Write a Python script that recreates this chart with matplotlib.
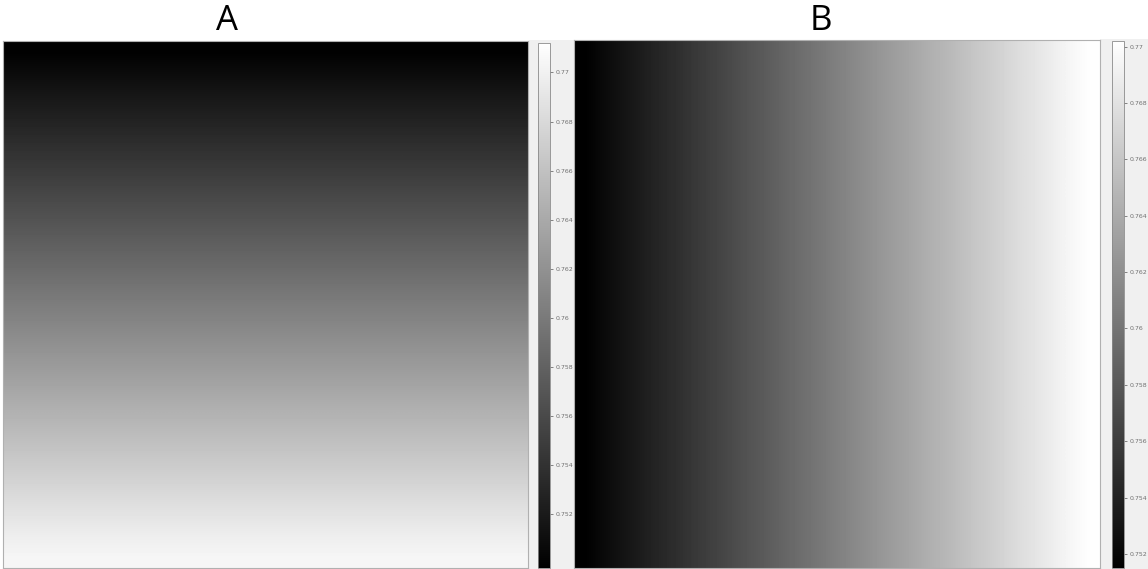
import numpy as np
import matplotlib
matplotlib.use("Agg")
import matplotlib.pyplot as plt
from matplotlib.patches import Rectangle

# Panel A: values per row (top -> bottom), field varies vertically
a_rows = [0.7499, 0.7508, 0.7517, 0.7526, 0.7535, 0.7544, 0.7553, 0.7562,
          0.7571, 0.7580, 0.7589, 0.7598, 0.7607, 0.7616, 0.7625, 0.7634,
          0.7643, 0.7652, 0.7661, 0.7670, 0.7679, 0.7688, 0.7697, 0.7704]
a_vmin, a_vmax = 0.7498, 0.7712

# Panel B: values per column (left -> right), field varies horizontally
b_cols = [0.7515, 0.7524, 0.7532, 0.7541, 0.7549, 0.7558, 0.7566, 0.7575,
          0.7583, 0.7592, 0.7600, 0.7609, 0.7617, 0.7626, 0.7634, 0.7643,
          0.7651, 0.7660, 0.7668, 0.7677, 0.7685, 0.7694, 0.7701]
b_vmin, b_vmax = 0.7515, 0.7702

cbar_ticks = [0.752, 0.754, 0.756, 0.758, 0.76, 0.762, 0.764, 0.766, 0.768, 0.77]
cbar_labels = ["0.752", "0.754", "0.756", "0.758", "0.76", "0.762", "0.764", "0.766", "0.768", "0.77"]
titles = ["A", "B"]

W, H = 1148, 569
fig = plt.figure(figsize=(W / 100, H / 100), dpi=100)
fig.patch.set_facecolor("white")

def rect(x0, y0, x1, y1):
    # pixel coords (top-left origin) -> figure fraction
    return [x0 / W, (H - y1) / H, (x1 - x0) / W, (y1 - y0) / H]

# gray backgrounds behind colorbars
for (x0, y0, x1, y1) in [(529, 40, 574, 569), (1100, 39, 1148, 569)]:
    fig.patches.append(Rectangle((x0 / W, (H - y1) / H), (x1 - x0) / W, (y1 - y0) / H,
                                 transform=fig.transFigure, facecolor="#f0f0f0",
                                 edgecolor="none", zorder=-5))

def panel(img_rect, cb_rect, data, vmin, vmax):
    ax = fig.add_axes(rect(*img_rect))
    ax.set_zorder(2)
    im = ax.imshow(data, cmap="gray", vmin=vmin, vmax=vmax, aspect="auto",
                   interpolation="bilinear")
    ax.set_xticks([])
    ax.set_yticks([])
    for s in ax.spines.values():
        s.set_color("#b0b0b0")
        s.set_linewidth(0.8)
    cax = fig.add_axes(rect(*cb_rect))
    cax.set_zorder(2)
    cb = fig.colorbar(im, cax=cax)
    cb.set_ticks(cbar_ticks)
    cb.set_ticklabels(cbar_labels)
    cax.tick_params(labelsize=4.5, colors="#707070", length=2.5, width=0.6, pad=1.5)
    cb.outline.set_edgecolor("#8a8a8a")
    cb.outline.set_linewidth(0.6)
    return ax

a_data = np.array(a_rows)[:, None] * np.ones((1, 2))
b_data = np.ones((2, 1)) * np.array(b_cols)[None, :]

panel((3, 41, 528, 568), (538, 43, 550, 568), a_data, a_vmin, a_vmax)
panel((574, 40, 1100, 568), (1112, 41, 1124, 568), b_data, b_vmin, b_vmax)

fig.text(227 / W, 1 - 21 / H, titles[0], ha="center", va="center", fontsize=25,
         family="Open Sans")
fig.text(821 / W, 1 - 21 / H, titles[1], ha="center", va="center", fontsize=25,
         family="Open Sans")

fig.savefig("out.png", dpi=100, facecolor="white")
